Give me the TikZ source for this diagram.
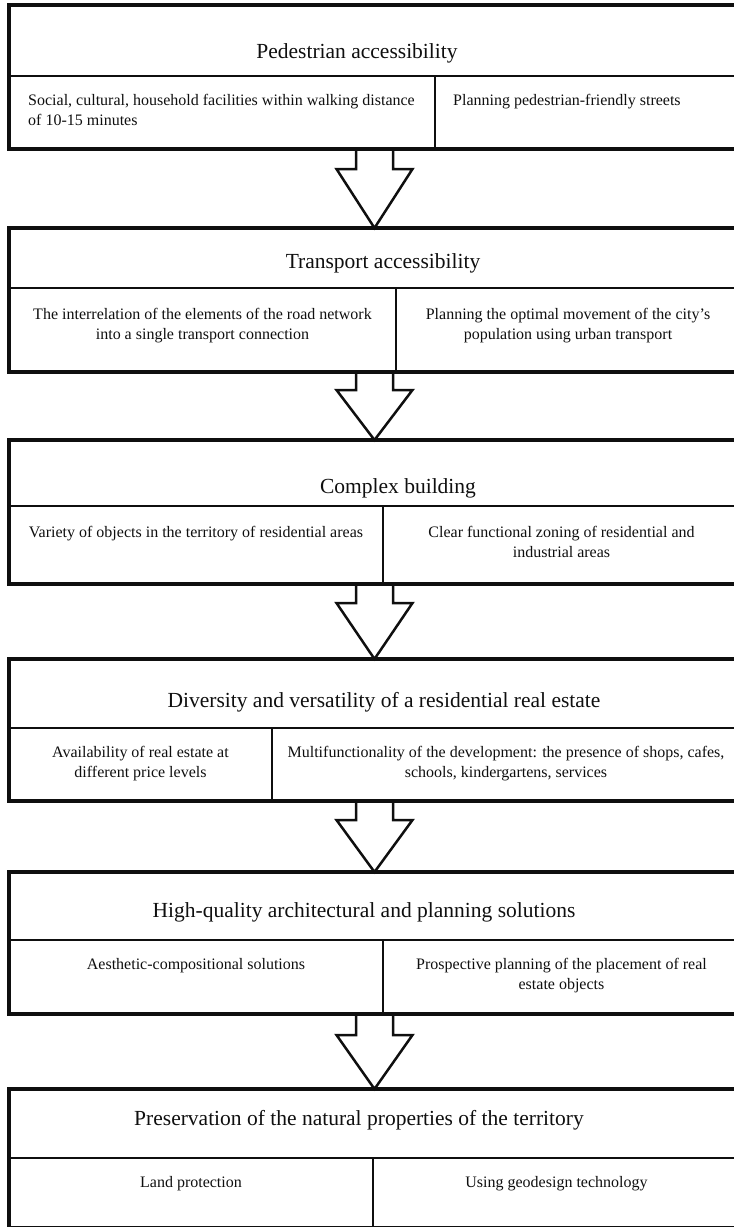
\documentclass[tikz,border=0pt]{standalone}
\usepackage{fontspec}
\setmainfont{Liberation Serif}
\usetikzlibrary{calc,positioning}
\tikzset{
  flow_box/.style = {draw=my_black, line width=3.5pt, rectangle, minimum width=731pt,
  inner sep=0pt, outer sep=0pt},
  flow_head/.style = {anchor=base, inner sep=0pt, text=my_black, font=\fontsize{21.5}{26}\selectfont},
  flow_cell/.style = {anchor=north, inner sep=0pt, align=center, text=my_black,
  font=\fontsize{16}{20}\selectfont}
}
\definecolor{my_black}{RGB}{15, 15, 15}

\begin{document}
\begin{tikzpicture}[x=1pt,y=1pt,
        div_h/.style={draw=my_black, line width=2pt},
        div_v/.style={draw=my_black, line width=1.5pt},
        blk_arrow/.style={draw=my_black, line width=2.5pt, line join=miter}]
        \useasboundingbox (0,0) rectangle (734,-1227);
        \clip (0,0) rectangle (734,-1227);
        % boxes
        \node [flow_box, minimum height=144pt] (box1) at (374.5,-77) {};
        \node [flow_box, minimum height=144pt] (box2) at (374.5,-300) {};
        \node [flow_box, minimum height=144pt] (box3) at (374.5,-512) {};
        \node [flow_box, minimum height=142pt] (box4) at (374.5,-730) {};
        \node [flow_box, minimum height=142pt] (box5) at (374.5,-943) {};
        \node [flow_box, minimum height=139pt] (box6) at (374.5,-1158.5) {};
        % dividers
        \draw [div_h] (box1.west |- 0,-76) -- (box1.east |- 0,-76);
        \draw [div_v] (435,-76) -- (box1.south -| 435,0);
        \draw [div_h] (box2.west |- 0,-288) -- (box2.east |- 0,-288);
        \draw [div_v] (396,-288) -- (box2.south -| 396,0);
        \draw [div_h] (box3.west |- 0,-506) -- (box3.east |- 0,-506);
        \draw [div_v] (383,-506) -- (box3.south -| 383,0);
        \draw [div_h] (box4.west |- 0,-728) -- (box4.east |- 0,-728);
        \draw [div_v] (272,-728) -- (box4.south -| 272,0);
        \draw [div_h] (box5.west |- 0,-940) -- (box5.east |- 0,-940);
        \draw [div_v] (383,-940) -- (box5.south -| 383,0);
        \draw [div_h] (box6.west |- 0,-1158) -- (box6.east |- 0,-1158);
        \draw [div_v] (373,-1158) -- (box6.south -| 373,0);
        % texts
        \node [flow_head] (head1) at (357,-58) {Pedestrian accessibility};
        \node [flow_cell, anchor=north west, align=left] (cell1a) at (28,-91)
            {\strut Social, cultural, household facilities within walking distance\\of 10-15 minutes};
        \node [flow_cell, anchor=north west, align=left] (cell1b) at (453,-91)
            {\strut Planning pedestrian-friendly streets};
        \node [flow_head] (head2) at (383,-268) {Transport accessibility};
        \node [flow_cell] (cell2a) at (202.5,-305)
            {\strut The interrelation of the elements of the road network\\into a single transport connection};
        \node [flow_cell] (cell2b) at (568,-305)
            {\strut Planning the optimal movement of the city's\\population using urban transport};
        \node [flow_head] (head3) at (398,-493) {Complex building};
        \node [flow_cell] (cell3a) at (196,-523)
            {\strut Variety of objects in the territory of residential areas};
        \node [flow_cell] (cell3b) at (561.5,-523)
            {\strut Clear functional zoning of residential and\\industrial areas};
        \node [flow_head] (head4) at (384,-707) {Diversity and versatility of a residential real estate};
        \node [flow_cell] (cell4a) at (140.5,-743)
            {\strut Availability of real estate at\\different price levels};
        \node [flow_cell] (cell4b) at (506,-743)
            {\strut Multifunctionality of the development: the presence of shops, cafes,\\schools, kindergartens, services};
        \node [flow_head] (head5) at (364,-917) {High-quality architectural and planning solutions};
        \node [flow_cell] (cell5a) at (196,-955)
            {\strut Aesthetic-compositional solutions};
        \node [flow_cell] (cell5b) at (561.5,-955)
            {\strut Prospective planning of the placement of real\\estate objects};
        \node [flow_head] (head6) at (359,-1125) {Preservation of the natural properties of the territory};
        \node [flow_cell] (cell6a) at (191,-1173) {\strut Land protection};
        \node [flow_cell] (cell6b) at (556.5,-1173) {\strut Using geodesign technology};
        % block arrows
        \draw [blk_arrow] ([xshift=-18.5]box1.south) |- ([xshift=-38,yshift=-20]box1.south) -- (box2.north)
            -- ([xshift=38,yshift=-20]box1.south) -| ([xshift=18.5]box1.south);
        \draw [blk_arrow] ([xshift=-18.5]box2.south) |- ([xshift=-38,yshift=-18]box2.south) -- (box3.north)
            -- ([xshift=38,yshift=-18]box2.south) -| ([xshift=18.5]box2.south);
        \draw [blk_arrow] ([xshift=-18.5]box3.south) |- ([xshift=-38,yshift=-19]box3.south) -- (box4.north)
            -- ([xshift=38,yshift=-19]box3.south) -| ([xshift=18.5]box3.south);
        \draw [blk_arrow] ([xshift=-18.5]box4.south) |- ([xshift=-38,yshift=-19]box4.south) -- (box5.north)
            -- ([xshift=38,yshift=-19]box4.south) -| ([xshift=18.5]box4.south);
        \draw [blk_arrow] ([xshift=-18.5]box5.south) |- ([xshift=-38,yshift=-21]box5.south) -- (box6.north)
            -- ([xshift=38,yshift=-21]box5.south) -| ([xshift=18.5]box5.south);
\end{tikzpicture}
\end{document}
